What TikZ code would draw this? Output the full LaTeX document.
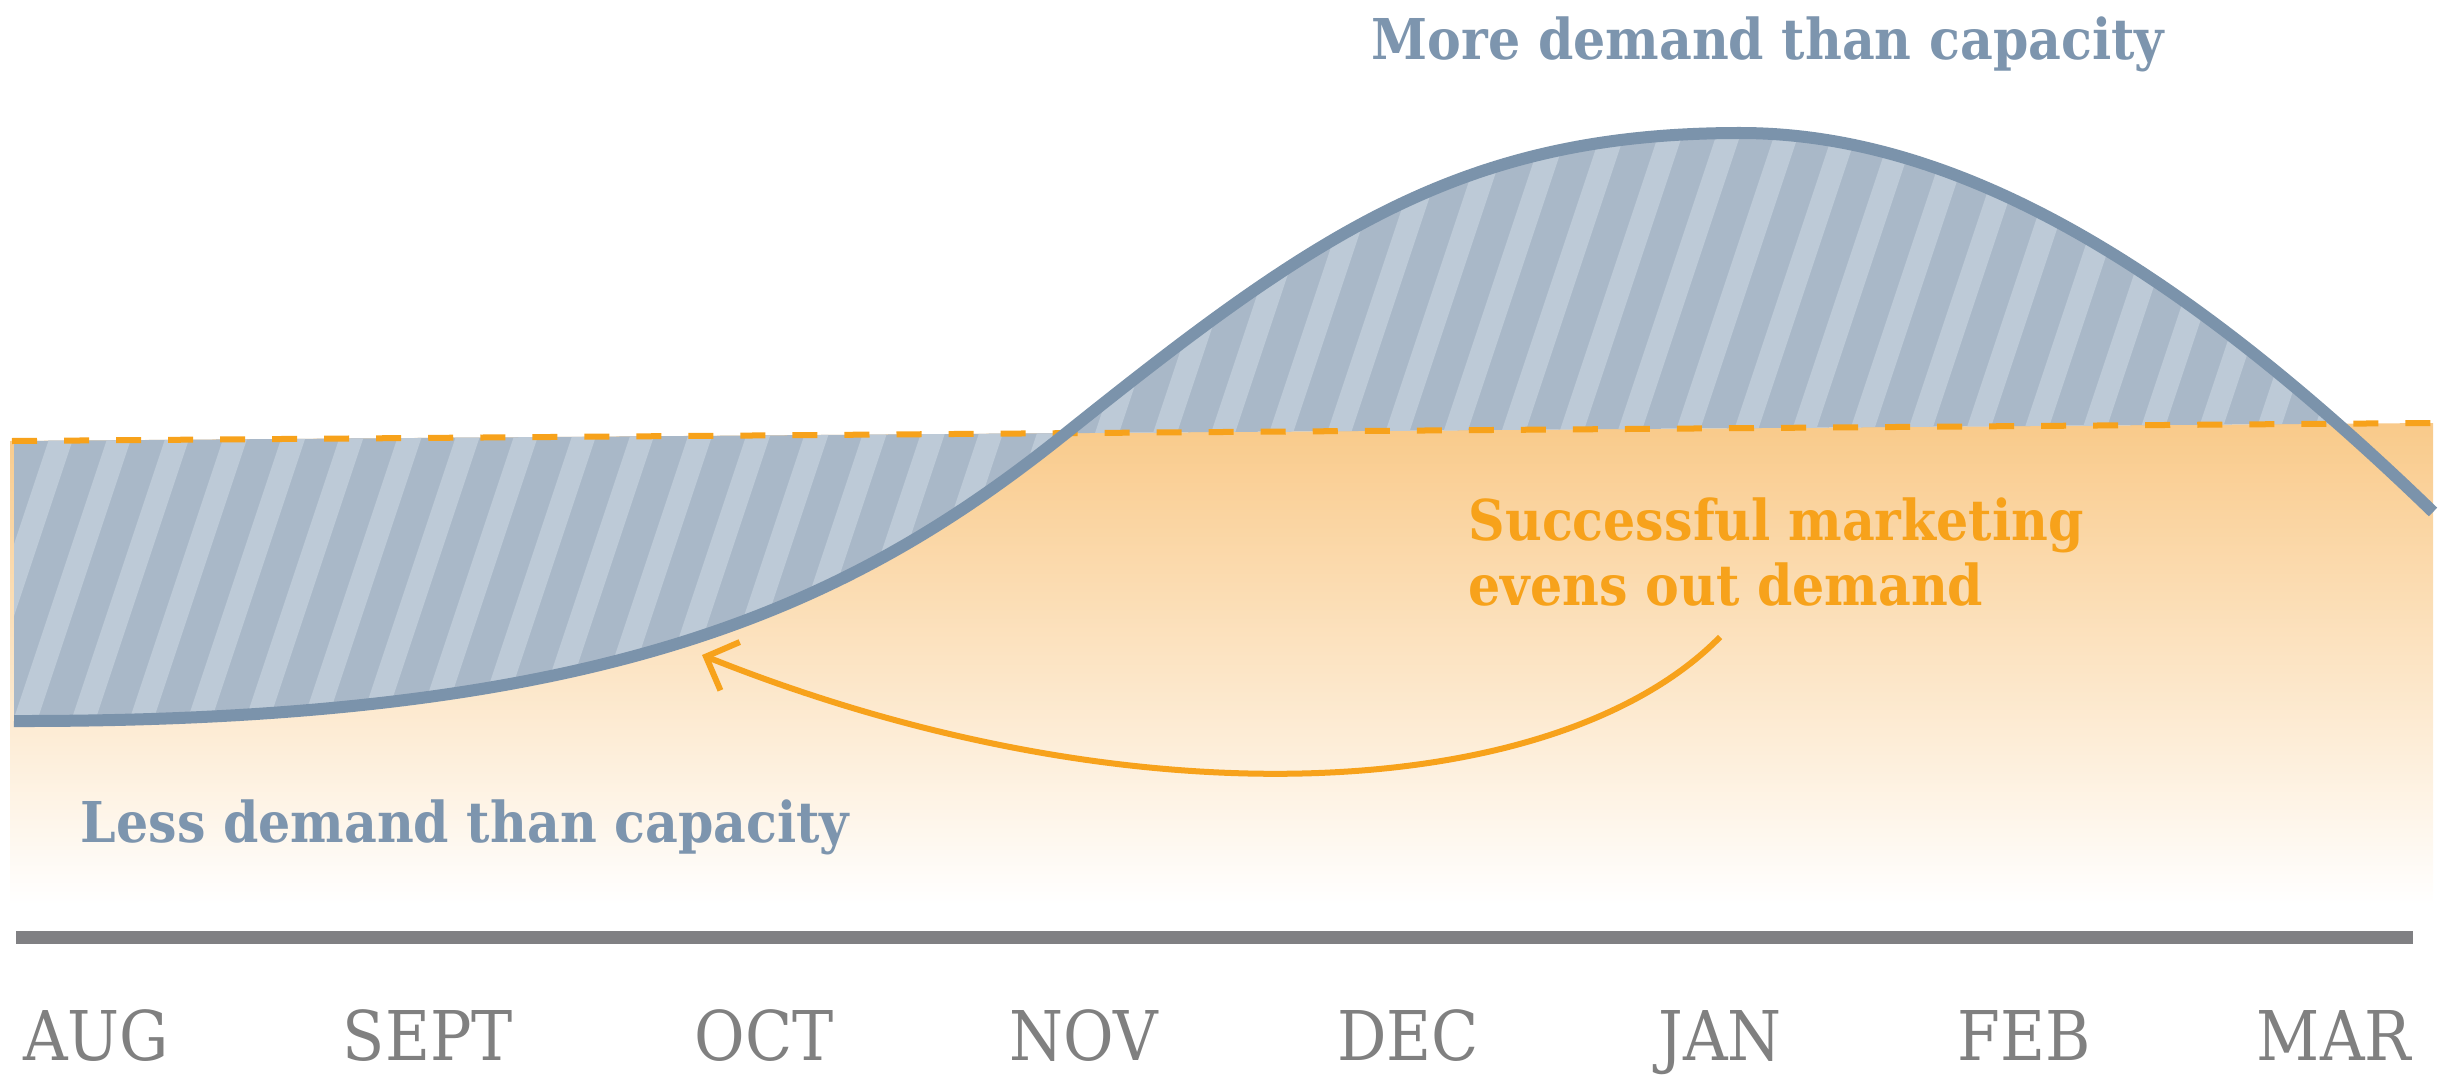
\documentclass[tikz,border=0pt]{standalone}
\usepackage{fontspec}
\newfontfamily\slab{DejaVu Serif}[FakeStretch=0.9]
\usetikzlibrary{arrows.meta}
\definecolor{curveblue}{HTML}{7B93AB}
\definecolor{hatchdark}{HTML}{A9B8C8}
\definecolor{hatchlight}{HTML}{BDCAD7}
\definecolor{orangeline}{HTML}{F7A21B}
\definecolor{orangetop}{HTML}{F9CA8A}
\definecolor{axisgray}{HTML}{808083}
\definecolor{monthgray}{HTML}{808080}
\definecolor{labelblue}{HTML}{7D95AE}
\tikzset{
  lbl/.style={inner sep=0pt, text=labelblue, font=\slab\bfseries\fontsize{16}{18}\selectfont},
  mk/.style={inner sep=0pt, text=orangeline, font=\slab\bfseries\fontsize{16}{18}\selectfont},
  month/.style={inner sep=0pt, text=monthgray, font=\slab\fontsize{19.5}{22}\selectfont},
  demand/.style={curveblue, line width=0.12cm},
  capline/.style={orangeline, line width=0.06cm, dash pattern=on 0.25cm off 0.27cm},
  axisline/.style={axisgray, line width=0.13cm},
  marrow/.style={orangeline, line width=0.06cm, -{Straight Barb[length=0.26cm,width=0.52cm]}}
}
\begin{document}
\begin{tikzpicture}[x=0.01cm,y=-0.01cm]
\useasboundingbox (0,0) rectangle (2446,1076);
% orange capacity area
\shade[top color=orangetop, bottom color=white] (10,441) -- (2433,423) -- (2433,905) -- (10,905) -- cycle;
% hatched gap between demand and capacity
\begin{scope}
  \clip (0,0) rectangle (2340,1076);
  \clip (14,441) -- (14,721) .. controls (600,722) and (845,610) .. (1065,434)
        .. controls (1315,234) and (1460,133) .. (1740,133)
        .. controls (1960,133) and (2183,270) .. (2433,512) -- (2433,423) -- cycle;
  \fill[hatchdark] (0,0) rectangle (2446,1076);
  \foreach \i in {-6,...,42}
    \fill[hatchlight] ({\i*58},760) -- ({\i*58+24},760) -- ({\i*58+244},100) -- ({\i*58+220},100) -- cycle;
\end{scope}
% capacity line
\coordinate (capL) at (12,441);
\coordinate (capR) at (2433,423);
\draw[capline] (capL) -- (capR);
% demand curve
\draw[demand] (14,721) .. controls (600,722) and (845,610) .. (1065,434)
      .. controls (1315,234) and (1460,133) .. (1740,133)
      .. controls (1960,133) and (2183,270) .. (2433,512);
% labels
\node[lbl, anchor=base west] (more) at (1371,60) {More demand than capacity};
\node[lbl, anchor=base west] (less) at (80,842) {Less demand than capacity};
\node[mk, anchor=base west] (mk1) at (1468,540) {Successful marketing};
\node[mk, anchor=base west] (mk2) at (1468,605) {evens out demand};
% arrow
\coordinate (arrS) at (1720,637);
\coordinate (arrE) at (702,655);
\draw[marrow] (arrS) .. controls (1560,800) and (1140,830) .. (arrE);
% axis
\coordinate (axL) at (16,937);
\coordinate (axR) at (2413,937);
\draw[axisline] (axL) -- (axR);
\foreach \m/\x in {AUG/96, SEPT/428, OCT/764, NOV/1084, DEC/1408, JAN/1720, FEB/2024, MAR/2334}
  \node[month, anchor=base] (m\m) at (\x,1060) {\m};
\end{tikzpicture}
\end{document}
